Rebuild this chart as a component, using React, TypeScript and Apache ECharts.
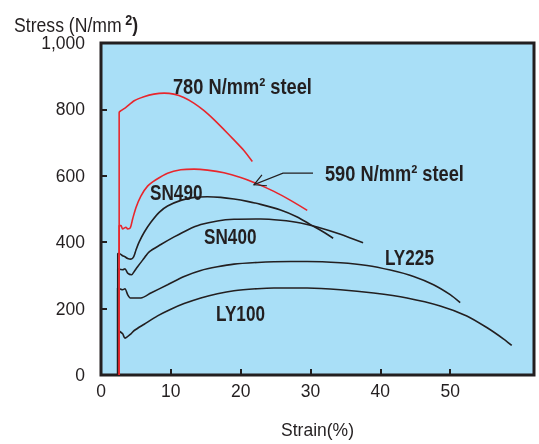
import React, { useEffect, useRef } from "react";
import * as echarts from "echarts";

const FF = '"Liberation Sans", Arial, sans-serif';
const INK = "#231f20";
const RED = "#e8262c";

// strain (%) / stress (N/mm2)
const strain780 = [2.6, 2.6, 2.86, 3.57, 4.76, 6.14, 7.57, 9.04, 10.43, 11.86, 13.29, 14.71, 16.14, 17.57, 19.0, 20.43, 21.67];
const stress780 = [0, 791, 796, 806, 826, 838, 846, 849, 846, 836, 819, 797, 770, 740, 709, 677, 643];

const strain590 = [2.6, 2.6, 2.86, 3.1, 3.57, 3.81, 4.19, 4.53, 5.0, 5.71, 6.67, 7.86, 9.53, 11.43, 13.33, 15.24, 17.61, 20.0, 21.9, 24.76, 27.14, 29.53];
const stress590 = [0, 450, 450, 440, 445, 440, 443, 470, 504, 539, 569, 588, 608, 618, 620, 617, 609, 595, 580, 553, 526, 496];

const strainSN490 = [2.4, 2.4, 2.61, 3.1, 3.43, 3.81, 4.29, 4.67, 5.0, 5.47, 6.19, 7.14, 8.33, 9.53, 11.43, 13.33, 15.24, 17.14, 19.04, 20.95, 22.86, 25.71, 28.1, 30.0, 31.67, 33.24];
const stressSN490 = [0, 366, 366, 359, 356, 351, 349, 356, 376, 401, 430, 460, 490, 509, 526, 535, 537, 535, 530, 523, 514, 497, 476, 453, 433, 412];

const strainSN400 = [2.4, 2.4, 3.1, 3.43, 3.81, 4.39, 4.76, 5.24, 5.96, 6.9, 8.57, 10.47, 12.39, 14.29, 16.67, 19.04, 22.86, 25.71, 28.57, 30.95, 34.29, 37.53];
const stressSN400 = [0, 320, 317, 320, 307, 302, 312, 326, 346, 371, 393, 416, 437, 453, 464, 469, 470, 466, 458, 446, 424, 398];

const strainLY225 = [2.38, 2.38, 2.76, 3.1, 3.43, 3.81, 4.19, 4.76, 5.71, 7.14, 9.53, 11.9, 14.29, 16.67, 19.04, 22.39, 24.76, 29.53, 34.29, 38.1, 41.43, 44.76, 47.61, 50.0, 51.43];
const stressLY225 = [0, 262, 259, 257, 260, 242, 232, 232, 232, 247, 272, 297, 315, 326, 334, 339, 341, 342, 338, 330, 316, 297, 272, 242, 218];

const strainLY100 = [2.5, 2.5, 3.1, 3.43, 4.29, 4.76, 6.19, 8.1, 10.0, 11.9, 14.29, 16.67, 19.04, 22.39, 24.76, 29.53, 34.29, 39.04, 43.81, 48.57, 52.38, 55.24, 57.61, 58.81];
const stressLY100 = [0, 134, 124, 111, 124, 134, 153, 178, 198, 215, 232, 245, 254, 260, 262, 262, 257, 247, 232, 208, 178, 143, 109, 89];

const xTicks = [10, 20, 30, 40, 50];
const xLabels = [0, 10, 20, 30, 40, 50];
const yTicks = [200, 400, 600, 800, 1000];

// curve labels: text, anchor strain, anchor stress
const labelTexts = ["780 N/mm² steel", "590 N/mm² steel", "SN490", "SN400", "LY225", "LY100"];
const labelStrain = [10.3, 32.07, 7.02, 14.75, 40.66, 16.47];
const labelStress = [869, 607, 550, 417, 356, 187];

// leader arrow for 590 steel (strain, stress)
const arrowStrain = [30.36, 26.06, 21.9];
const arrowStress = [608, 608, 573];

const zip = (xs: number[], ys: number[]) => xs.map((x, i) => [x, ys[i]]);

export default function App() {
  const ref = useRef<HTMLDivElement>(null);
  useEffect(() => {
    if (!ref.current) return;
    const chart = echarts.init(ref.current, null, { renderer: "svg" });
    const mk = (name: string, xs: number[], ys: number[], color: string) => ({
      name,
      type: "line",
      data: zip(xs, ys),
      showSymbol: false,
      symbol: "none",
      smooth: 0.25,
      lineStyle: { color, width: 1.6 },
      z: color === RED ? 3 : 2,
    });
    chart.setOption({
      animation: false,
      grid: {
        left: 101,
        right: 5,
        top: 43,
        bottom: 64,
        show: true,
        backgroundColor: "#a9dff7",
        borderColor: INK,
        borderWidth: 3,
        containLabel: false,
      },
      xAxis: {
        type: "value",
        min: 0,
        max: 62,
        interval: 10,
        axisLine: { show: false },
        splitLine: { show: false },
        axisTick: { show: true, inside: true, length: 6, lineStyle: { color: INK, width: 2 }, customValues: xTicks },
        axisLabel: { customValues: xLabels, fontFamily: FF, fontSize: 17.5, color: INK, margin: 7 },
        name: "Strain(%)",
        nameLocation: "middle",
        nameGap: 46,
        nameTextStyle: { fontFamily: FF, fontSize: 17.5, color: INK },
      },
      yAxis: {
        type: "value",
        min: 0,
        max: 1000,
        interval: 200,
        axisLine: { show: false },
        splitLine: { show: false },
        axisTick: { show: true, inside: true, length: 6, lineStyle: { color: INK, width: 2 }, customValues: yTicks },
        axisLabel: {
          fontFamily: FF,
          fontSize: 17.5,
          color: INK,
          margin: 16,
          padding: [5, 0, 0, 0],
          formatter: (v: number) => v.toLocaleString("en-US"),
        },
      },
      series: [
        mk("SN490", strainSN490, stressSN490, INK),
        mk("SN400", strainSN400, stressSN400, INK),
        mk("LY225", strainLY225, stressLY225, INK),
        mk("LY100", strainLY100, stressLY100, INK),
        mk("590 N/mm² steel", strain590, stress590, RED),
        mk("780 N/mm² steel", strain780, stress780, RED),
      ],
    });

    const px = (x: number, y: number) => chart.convertToPixel({ gridIndex: 0 }, [x, y]) as number[];
    const graphics: any[] = [];
    labelTexts.forEach((t, i) => {
      const p = px(labelStrain[i], labelStress[i]);
      const isSteel = t.indexOf("steel") >= 0;
      graphics.push({
        type: "text",
        x: p[0],
        y: p[1],
        scaleX: isSteel ? 0.83 : 0.78,
        z: 10,
        style: {
          text: t,
          fontFamily: FF,
          fontSize: 22,
          fontWeight: "bold",
          fill: INK,
          textAlign: "left",
          textVerticalAlign: "middle",
        },
      });
    });
    const pts = arrowStrain.map((s, i) => px(s, arrowStress[i]));
    graphics.push({
      type: "polyline",
      z: 10,
      shape: { points: pts },
      style: { stroke: INK, lineWidth: 1.2, fill: "none" },
    });
    const tip = pts[pts.length - 1];
    graphics.push({
      type: "polyline",
      z: 10,
      shape: { points: [[tip[0] + 8, tip[1] - 10], tip, [tip[0] + 13, tip[1] + 1]] },
      style: { stroke: INK, lineWidth: 1.2, fill: "none" },
    });
    graphics.push({
      type: "text",
      x: 14,
      y: 24,
      scaleX: 0.84,
      z: 10,
      style: {
        text: "{a|Stress (N/mm}{b| 2}{c|)}",
        fill: INK,
        textVerticalAlign: "middle",
        rich: {
          a: { fontFamily: FF, fontSize: 21, lineHeight: 24, fill: INK },
          b: { fontFamily: FF, fontSize: 15, fontWeight: "bold", lineHeight: 24, verticalAlign: "top", fill: INK },
          c: { fontFamily: FF, fontSize: 21, fontWeight: "bold", lineHeight: 24, fill: INK },
        },
      },
    });
    chart.setOption({ graphic: graphics });
    return () => chart.dispose();
  }, []);
  return <div ref={ref} style={{ position: "fixed", left: 0, top: 0, width: 539, height: 444 }} />;
}
